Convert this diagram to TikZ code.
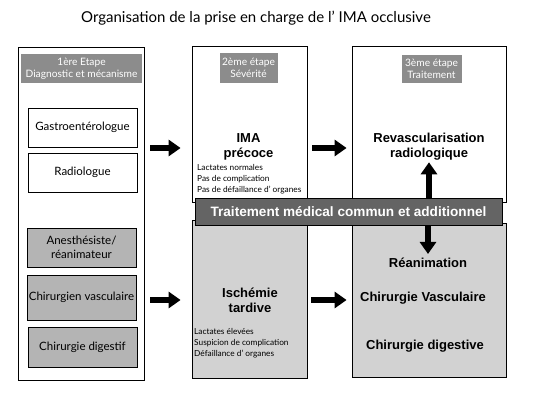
\documentclass[tikz,border=0pt]{standalone}
\usepackage{fontspec}
\setmainfont{Lato}
\newfontfamily\arialf{Liberation Sans}
\usetikzlibrary{arrows.meta}

\definecolor{hdrgray}{HTML}{8C8C8C}
\definecolor{midgray}{HTML}{B4B4B4}
\definecolor{lightgray}{HTML}{D2D2D2}
\definecolor{bannergray}{HTML}{646464}

\begin{document}
\begin{tikzpicture}[x=1pt,y=-1pt,
  column/.style={draw=black,line width=0.8pt,inner sep=0pt},
  hdr/.style={fill=hdrgray,text=white,inner sep=0pt,align=center,
    font=\fontsize{10.2}{12.5}\selectfont},
  actor/.style={draw=black,line width=0.8pt,inner sep=0pt,align=center,
    minimum width=109pt,font=\fontsize{11.5}{14}\selectfont},
  big/.style={font=\arialf\bfseries\fontsize{13}{15}\selectfont,align=center,inner sep=1pt},
  small/.style={font=\fontsize{8.3}{11.2}\selectfont,align=left,inner sep=0pt,anchor=north west},
  bigarrow/.style={line width=6pt,-{Triangle[width=16pt,length=12pt]}}]

\useasboundingbox (0,0) rectangle (536,402);

% Title
\node[font=\fontsize{15}{17}\selectfont] (title) at (256,18)
  {Organisation de la prise en charge de l’ IMA occlusive};

% Column 1
\node[column,minimum width=126pt,minimum height=333pt] (col1) at (81,213.5) {};
\node[hdr,minimum width=121pt,minimum height=29pt] (hdr1) at (81.5,68.5)
  {1ère Etape\\Diagnostic et mécanisme};
\node[actor,minimum height=39pt] (gastro) at (82.5,127.5) {Gastroentérologue};
\node[actor,minimum height=39pt] (radio) at (82.5,172.5) {Radiologue};
\node[actor,fill=midgray,minimum height=39pt] (anest) at (81.5,247.5)
  {Anesthésiste/\\réanimateur};
\node[actor,fill=midgray,minimum height=45pt] (chirv) at (81.5,297.5)
  {Chirurgien vasculaire};
\node[actor,fill=midgray,minimum height=40pt] (chird) at (82.5,347)
  {Chirurgie digestif};

% Column 2
\node[column,minimum width=115pt,minimum height=156pt] (col2up) at (249.5,124) {};
\node[column,fill=lightgray,minimum width=115pt,minimum height=158pt] (col2lo) at (249.5,299) {};
\node[hdr,minimum width=58pt,minimum height=30pt] (hdr2) at (248.5,68)
  {2ème étape\\Sévérité};
\node[big] (imap) at (248.5,146.5) {IMA\\précoce};
\node[small] (imapsub) at (197,164) {Lactates normales\\Pas de complication\\Pas de défaillance d’ organes};
\node[big] (ischem) at (250,300.5) {Ischémie\\tardive};
\node[small] (ischemsub) at (194,328) {Lactates élevées\\Suspicion de complication\\Défaillance d’ organes};

% Column 3
\node[column,minimum width=154pt,minimum height=156pt] (col3up) at (429,124) {};
\node[column,fill=lightgray,minimum width=154pt,minimum height=154pt] (col3lo) at (429,300) {};
\node[hdr,minimum width=60pt,minimum height=28pt] (hdr3) at (431.5,69)
  {3ème étape\\Traitement};
\node[big] (revasc) at (429,146.5) {Revascularisation\\radiologique};
\node[big] (reanim) at (428,263) {Réanimation};
\node[big] (chirvasc) at (423,298) {Chirurgie Vasculaire};
\node[big] (chirdig) at (425,346) {Chirurgie digestive};

% Banner
\node[draw=black,fill=bannergray,text=white,inner sep=0pt,
  minimum width=307pt,minimum height=27pt,
  font=\arialf\bfseries\fontsize{13.6}{15}\selectfont] (banner) at (348.5,211.5)
  {Traitement médical commun et additionnel};

% Arrows
\coordinate (rowup) at (0,148);
\coordinate (rowlo) at (0,300);
\draw[bigarrow,shorten <=6pt,shorten >=11pt] (col1.east |- rowup) -- (col2up.west |- rowup);
\draw[bigarrow,shorten <=5pt,shorten >=5pt] (col2up.east |- rowup) -- (col3up.west |- rowup);
\draw[bigarrow,shorten <=6pt,shorten >=11pt] (col1.east |- rowlo) -- (col2lo.west |- rowlo);
\draw[bigarrow,shorten <=4pt,shorten >=5pt] (col2lo.east |- rowlo) -- (col3lo.west |- rowlo);
\draw[bigarrow,shorten >=1pt] (banner.north -| revasc) -- (revasc.south);
\draw[bigarrow,shorten >=3pt] (banner.south -| reanim) -- (reanim.north);

\end{tikzpicture}
\end{document}
